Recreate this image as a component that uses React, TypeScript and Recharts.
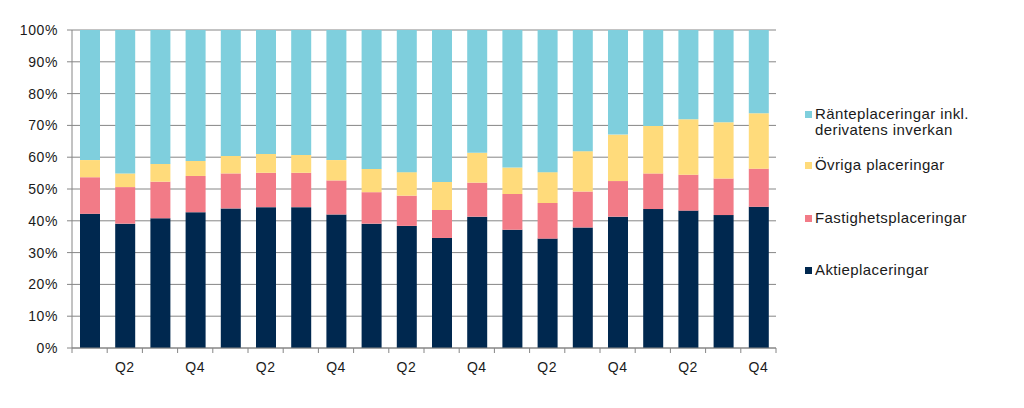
import React from "react";
import { BarChart, Bar, XAxis, YAxis, CartesianGrid } from "recharts";

const quarters = [
  "Q1", "Q2", "Q3", "Q4",
  "Q1", "Q2", "Q3", "Q4",
  "Q1", "Q2", "Q3", "Q4",
  "Q1", "Q2", "Q3", "Q4",
  "Q1", "Q2", "Q3", "Q4",
];

const aktie = [42.2, 39.1, 40.8, 42.7, 43.9, 44.3, 44.3, 42.0, 39.1, 38.4, 34.6, 41.3, 37.2, 34.4, 37.9, 41.3, 43.7, 43.2, 41.8, 44.4];
const fastighet = [11.5, 11.5, 11.5, 11.4, 11.0, 10.8, 10.8, 10.7, 9.9, 9.5, 8.8, 10.7, 11.2, 11.2, 11.3, 11.2, 11.2, 11.3, 11.5, 12.0];
const ovriga = [5.4, 4.3, 5.6, 4.7, 5.5, 5.9, 5.6, 6.4, 7.3, 7.4, 8.8, 9.4, 8.4, 9.7, 12.7, 14.6, 14.9, 17.4, 17.7, 17.4];
const ranta = [40.9, 45.1, 42.1, 41.2, 39.6, 39.0, 39.3, 40.9, 43.7, 44.7, 47.8, 38.6, 43.2, 44.7, 38.1, 32.9, 30.2, 28.1, 29.0, 26.2];

const yTicks = [0, 10, 20, 30, 40, 50, 60, 70, 80, 90, 100];

const COLORS = {
  aktie: "#00284F",
  fastighet: "#F27B87",
  ovriga: "#FFDB7B",
  ranta: "#7FCFDD",
};

const legendItems = [
  { key: "ranta", lines: ["Ränteplaceringar inkl.", "derivatens inverkan"], top: 106 },
  { key: "ovriga", lines: ["Övriga placeringar"], top: 157 },
  { key: "fastighet", lines: ["Fastighetsplaceringar"], top: 210 },
  { key: "aktie", lines: ["Aktieplaceringar"], top: 262 },
];

const data = quarters.map((q, i) => ({
  id: `${i}`,
  label: q === "Q2" || q === "Q4" ? q : "",
  aktie: aktie[i],
  fastighet: fastighet[i],
  ovriga: ovriga[i],
  ranta: ranta[i],
}));

const WIDTH = 1024;
const HEIGHT = 408;
const MARGIN = { top: 30, right: 248, bottom: 30, left: 12 };
const Y_WIDTH = 60;
const PLOT_W = WIDTH - MARGIN.left - MARGIN.right - Y_WIDTH;
const BAND = PLOT_W / quarters.length;
const FONT = "'Liberation Sans', Arial, sans-serif";
const AXIS_GRAY = "#868686";
const TEXT = "#1a1a1a";

function QuarterTick(props: any) {
  const { x, y, index } = props;
  const label = data[index]?.label ?? "";
  const top = y - 8;
  return (
    <g>
      <line x1={x + BAND / 2} x2={x + BAND / 2} y1={top} y2={top + 5} stroke={AXIS_GRAY} />
      {index === 0 && (
        <line x1={x - BAND / 2} x2={x - BAND / 2} y1={top} y2={top + 5} stroke={AXIS_GRAY} />
      )}
      <text
        x={x}
        y={top + 24}
        textAnchor="middle"
        fontSize={14}
        letterSpacing={0.5}
        fill={TEXT}
        fontFamily={FONT}
      >
        {label}
      </text>
    </g>
  );
}

export default function App() {
  return (
    <div style={{ position: "absolute", left: 0, top: 0, width: WIDTH, height: HEIGHT, background: "#fff" }}>
      <BarChart width={WIDTH} height={HEIGHT} data={data} margin={MARGIN} barSize={20}>
        <CartesianGrid vertical={false} stroke={AXIS_GRAY} />
        <XAxis
          dataKey="id"
          tick={<QuarterTick />}
          tickLine={false}
          axisLine={{ stroke: AXIS_GRAY }}
          interval={0}
          height={30}
        />
        <YAxis
          domain={[0, 100]}
          ticks={yTicks}
          width={Y_WIDTH}
          tickFormatter={(v: number) => `${v}%`}
          tick={{ fontSize: 14, fill: TEXT, fontFamily: FONT, letterSpacing: 0.6 }}
          tickLine={{ stroke: AXIS_GRAY }}
          tickSize={5}
          tickMargin={9}
          axisLine={{ stroke: AXIS_GRAY }}
          allowDataOverflow
        />
        <Bar dataKey="aktie" stackId="a" fill={COLORS.aktie} isAnimationActive={false} />
        <Bar dataKey="fastighet" stackId="a" fill={COLORS.fastighet} isAnimationActive={false} />
        <Bar dataKey="ovriga" stackId="a" fill={COLORS.ovriga} isAnimationActive={false} />
        <Bar dataKey="ranta" stackId="a" fill={COLORS.ranta} isAnimationActive={false} />
      </BarChart>
      {legendItems.map((item) => (
        <div
          key={item.key}
          style={{
            position: "absolute",
            left: 805,
            top: item.top,
            display: "flex",
            alignItems: "flex-start",
            fontFamily: FONT,
            fontSize: 15,
            letterSpacing: 0.4,
            lineHeight: "16px",
            color: TEXT,
          }}
        >
          <span
            style={{
              display: "inline-block",
              width: 7,
              height: 7,
              marginTop: 5,
              marginRight: 3,
              background: COLORS[item.key as keyof typeof COLORS],
            }}
          />
          <span>
            {item.lines.map((l) => (
              <div key={l}>{l}</div>
            ))}
          </span>
        </div>
      ))}
    </div>
  );
}
